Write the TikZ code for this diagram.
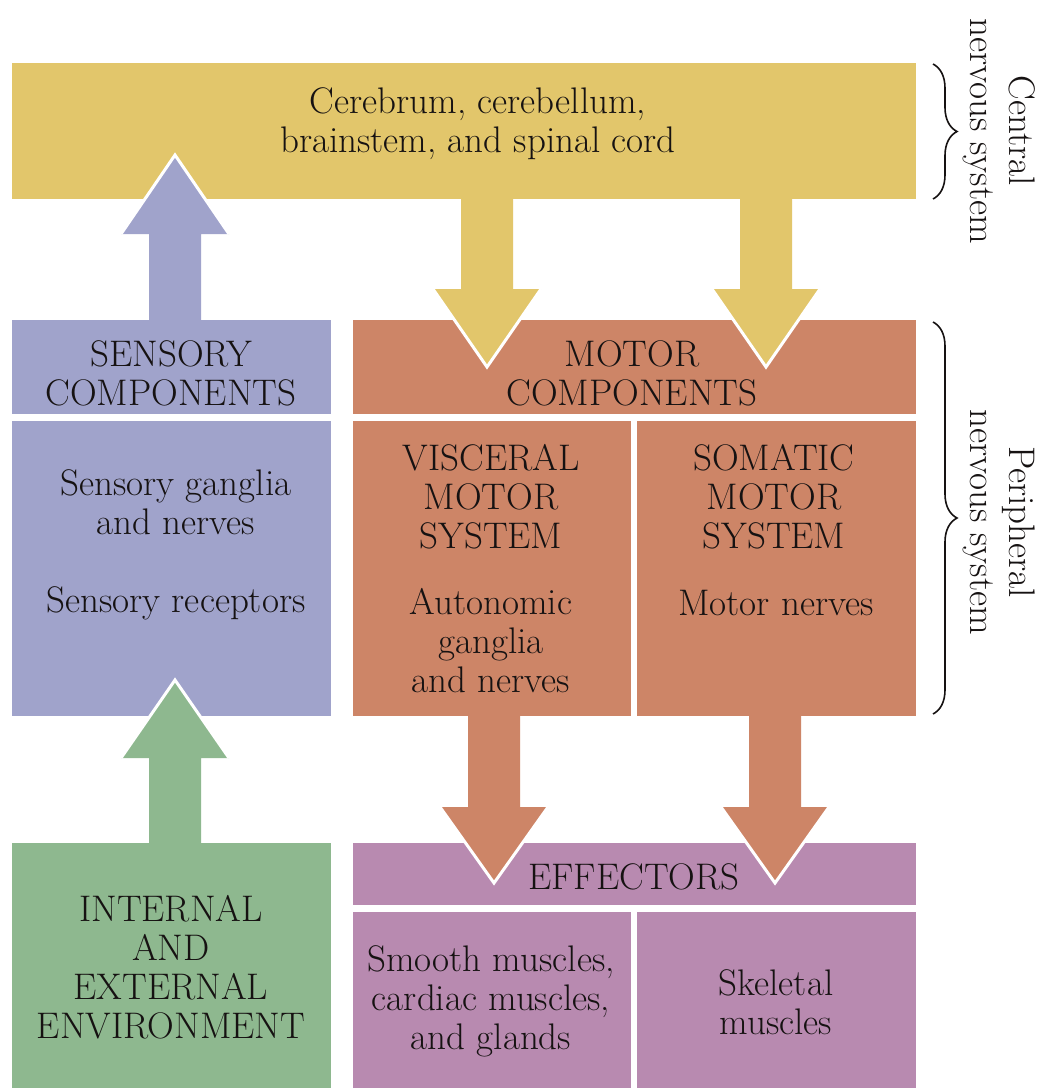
\documentclass[tikz,border=0pt]{standalone}
\usetikzlibrary{decorations.pathreplacing}
\definecolor{cnsY}{HTML}{E2C66B}
\definecolor{sensL}{HTML}{A0A3CB}
\definecolor{motO}{HTML}{CD8567}
\definecolor{envG}{HTML}{8EB88F}
\definecolor{effP}{HTML}{B88AB0}
\definecolor{txt}{HTML}{161212}
\newcommand{\blkarrow}[5]{%
  \fill[#1] ({#2-26},#3) -- ({#2-26},#4) -- ({#2-54},#4) -- (#2,#5) -- ({#2+54},#4) -- ({#2+26},#4) -- ({#2+26},#3) -- cycle;
  \draw[white, line width=3pt] ({#2-54},#4) -- (#2,#5) -- ({#2+54},#4);}
\begin{document}
\begin{tikzpicture}[x=1pt,y=-1pt,
  blk/.style={inner sep=0pt, outer sep=0pt, anchor=north west},
  lbl/.style={align=center, font=\fontsize{37}{39}\selectfont, text=txt, inner sep=0pt},
  brc/.style={decorate, decoration={brace, amplitude=24pt}, line width=1.6pt, draw=txt}
]
\useasboundingbox (0,0) rectangle (1038,1088);
\fill[white] (0,0) rectangle (1038,1088);

% boxes
\node[blk, fill=cnsY, minimum width=904pt, minimum height=136pt] (cns) at (12,63) {};
\node[blk, fill=sensL, minimum width=319pt, minimum height=94pt] (sensHdr) at (12,320) {};
\node[blk, fill=sensL, minimum width=319pt, minimum height=295pt] (sensBody) at (12,421) {};
\node[blk, fill=motO, minimum width=563pt, minimum height=94pt] (motHdr) at (353,320) {};
\node[blk, fill=motO, minimum width=278pt, minimum height=295pt] (visc) at (353,421) {};
\node[blk, fill=motO, minimum width=279pt, minimum height=295pt] (soma) at (637,421) {};
\node[blk, fill=envG, minimum width=319pt, minimum height=245pt] (env) at (12,843) {};
\node[blk, fill=effP, minimum width=563pt, minimum height=62pt] (effHdr) at (353,843) {};
\node[blk, fill=effP, minimum width=278pt, minimum height=176pt] (smooth) at (353,912) {};
\node[blk, fill=effP, minimum width=279pt, minimum height=176pt] (skel) at (637,912) {};

% block arrows
\blkarrow{sensL}{175}{321}{234}{155}
\blkarrow{envG}{175}{844}{758}{680}
\blkarrow{cnsY}{487}{198}{289}{367}
\blkarrow{cnsY}{766}{198}{289}{367}
\blkarrow{motO}{494}{715}{807}{883}
\blkarrow{motO}{775}{715}{807}{883}

% texts
\node[lbl] (cnsT) at (478,124) {Cerebrum, cerebellum,\\brainstem, and spinal cord};
\node[lbl] (sensHdrT) at (171,373) {SENSORY\\COMPONENTS};
\node[lbl] (sensT1) at (176,502) {Sensory ganglia\\and nerves};
\node[lbl] (sensT2) at (176,603) {Sensory receptors};
\node[lbl] (motHdrT) at (632,373) {MOTOR\\COMPONENTS};
\node[lbl] (viscT1) at (491,497) {VISCERAL\\MOTOR\\SYSTEM};
\node[lbl] (viscT2) at (491,641) {Autonomic\\ganglia\\and nerves};
\node[lbl] (somaT1) at (774,497) {SOMATIC\\MOTOR\\SYSTEM};
\node[lbl] (somaT2) at (776,603) {Motor nerves};
\node[lbl] (envT) at (171,967) {INTERNAL\\AND\\EXTERNAL\\ENVIRONMENT};
\node[lbl] (effHdrT) at (634,877) {EFFECTORS};
\node[lbl] (smoothT) at (491,1001) {Smooth muscles,\\cardiac muscles,\\and glands};
\node[lbl] (skelT) at (776,1002) {Skeletal\\muscles};

% braces
\draw[brc] (933,64) -- (933,199);
\draw[brc] (933,322) -- (933,714);
\node[lbl, rotate=-90] (cnsL) at (999,131) {Central\\nervous system};
\node[lbl, rotate=-90] (pnsL) at (999,522) {Peripheral\\nervous system};
\end{tikzpicture}
\end{document}
